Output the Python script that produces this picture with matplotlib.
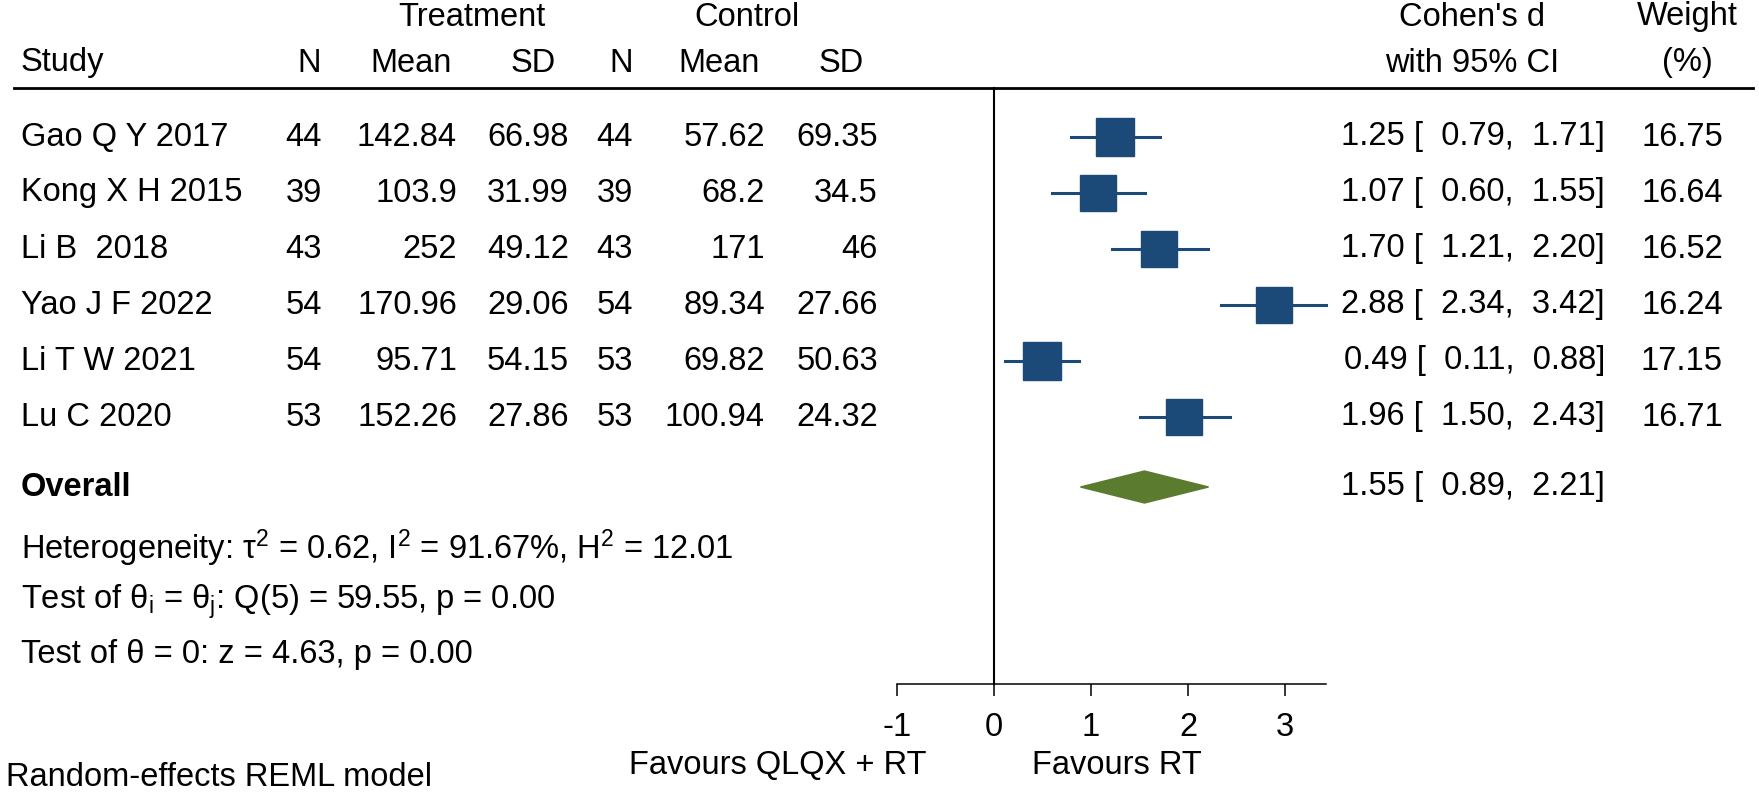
import numpy as np
import matplotlib
matplotlib.use("Agg")
import matplotlib.pyplot as plt
from matplotlib.patches import Polygon

plt.rcParams['font.family'] = ['Liberation Sans', 'DejaVu Sans']
plt.rcParams['mathtext.fontset'] = 'custom'
plt.rcParams['mathtext.rm'] = 'Liberation Sans'
plt.rcParams['mathtext.it'] = 'Liberation Sans:italic'

# data
studies = ["Gao Q Y 2017", "Kong X H 2015", "Li B  2018", "Yao J F 2022", "Li T W 2021", "Lu C 2020"]
trt_n = [44, 39, 43, 54, 54, 53]
trt_mean = ["142.84", "103.9", "252", "170.96", "95.71", "152.26"]
trt_sd = ["66.98", "31.99", "49.12", "29.06", "54.15", "27.86"]
ctl_n = [44, 39, 43, 54, 53, 53]
ctl_mean = ["57.62", "68.2", "171", "89.34", "69.82", "100.94"]
ctl_sd = ["69.35", "34.5", "46", "27.66", "50.63", "24.32"]
d = [1.25, 1.07, 1.70, 2.88, 0.49, 1.96]
lo = [0.79, 0.60, 1.21, 2.34, 0.11, 1.50]
hi = [1.71, 1.55, 2.20, 3.42, 0.88, 2.43]
weight = [16.75, 16.64, 16.52, 16.24, 17.15, 16.71]
overall = (1.55, 0.89, 2.21)
xticks = [-1, 0, 1, 2, 3]

W, H = 1759, 793
fs = 23.5
sq_col = "#1C4A78"
dia_col = "#5B7B2E"

fig = plt.figure(figsize=(W / 100, H / 100), dpi=100)

# text layer in pixel coords
tx = fig.add_axes([0, 0, 1, 1])
tx.set_xlim(0, W)
tx.set_ylim(H, 0)
tx.axis("off")

def put(x, y, s, ha="left", **kw):
    tx.text(x, y, s, ha=ha, va="center", fontsize=fs, **kw)

row_y = [137 + i * 56 for i in range(len(studies))]

# headers
put(472, 17, "Treatment", "center")
put(747, 17, "Control", "center")
put(1472, 17, "Cohen's d", "center")
put(1687, 17, "Weight", "center")
put(21, 63, "Study")
for x, s in zip([309, 411, 533, 621, 719, 841], ["N", "Mean", "SD", "N", "Mean", "SD"]):
    put(x, 63, s, "center")
put(1472, 63, "with 95% CI", "center")
put(1687, 63, "(%)", "center")
tx.plot([14, 1753], [88, 88], color="black", lw=2.0)

cols_r = [322, 457, 569, 633, 765, 878]
for i, y in enumerate(row_y):
    put(21, y, studies[i])
    vals = [str(trt_n[i]), trt_mean[i], trt_sd[i], str(ctl_n[i]), ctl_mean[i], ctl_sd[i]]
    for x, v in zip(cols_r, vals):
        put(x, y, v, "right")
    put(1605, y, "%.2f [  %.2f,  %.2f]" % (d[i], lo[i], hi[i]), "right")
    put(1723, y, "%.2f" % weight[i], "right")

oy = 487
put(21, oy, "Overall", fontweight="bold")
put(1605, oy, "%.2f [  %.2f,  %.2f]" % overall, "right")
put(21, 548, r"Heterogeneity: τ$^{2}$ = 0.62, I$^{2}$ = 91.67%, H$^{2}$ = 12.01")
put(21, 602, r"Test of θ$_\mathrm{i}$ = θ$_\mathrm{j}$: Q(5) = 59.55, p = 0.00")
put(21, 655, "Test of θ = 0: z = 4.63, p = 0.00")
put(6, 777, "Random-effects REML model")
put(778, 766, "Favours QLQX + RT", "center")
put(1117, 766, "Favours RT", "center")

# forest axes: x in effect units, y in pixels from top
x0, x1 = 897, 1326
ax_bot = 684
ax = fig.add_axes([x0 / W, (H - ax_bot) / H, (x1 - x0) / W, ax_bot / H])
ax.set_xlim(-1, 3.42)
ax.set_ylim(ax_bot, 0)
ax.patch.set_visible(False)
for sp in ["top", "left", "right"]:
    ax.spines[sp].set_visible(False)
ax.spines["bottom"].set_linewidth(1.1)
ax.set_yticks([])
ax.set_xticks(xticks)
ax.set_xticklabels([str(t) for t in xticks])
ax.tick_params(axis="x", length=8.6, width=1.1, pad=11.5, labelsize=fs)

ax.plot([0, 0], [88, ax_bot], color="black", lw=1.5, clip_on=False)

for i, y in enumerate(row_y):
    ax.plot([lo[i], hi[i]], [y, y], color=sq_col, lw=2.2, clip_on=False)
    ms = 26.6 * np.sqrt(weight[i] / np.mean(weight))
    ax.plot(d[i], y, marker="s", ms=ms, color=sq_col, mec=sq_col, clip_on=False)

dh = 16
ax.add_patch(Polygon([[overall[1], oy], [overall[0], oy - dh], [overall[2], oy], [overall[0], oy + dh]],
                     closed=True, facecolor=dia_col, edgecolor=dia_col, clip_on=False))

fig.savefig("out.png", dpi=100)
